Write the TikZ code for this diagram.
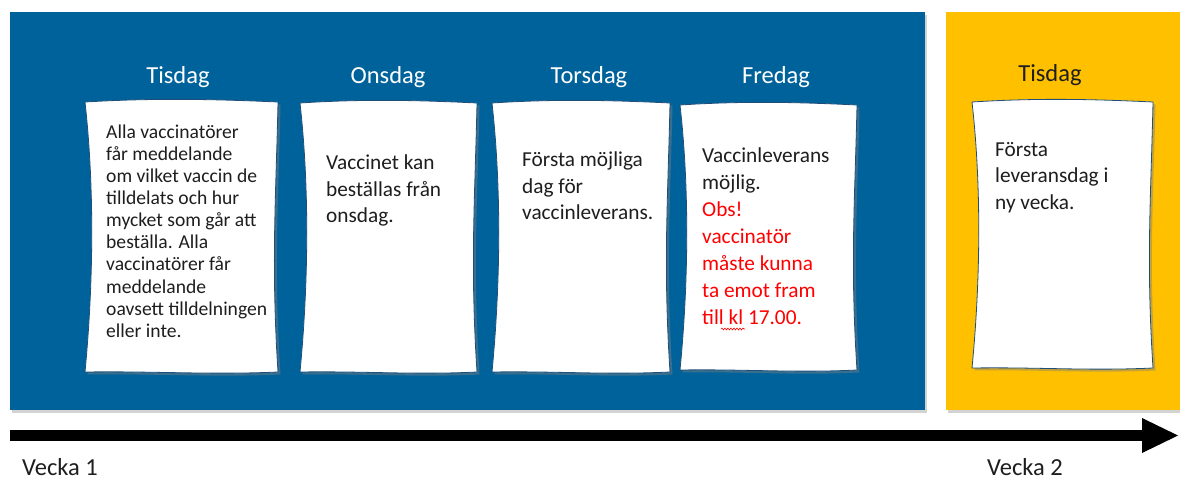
\documentclass[tikz,border=0pt]{standalone}
\usepackage{fontspec}
\setmainfont{Carlito}
\usetikzlibrary{shadows,calc,decorations.pathmorphing}
\definecolor{bluebg}{RGB}{0,98,155}
\definecolor{yellowbg}{RGB}{255,192,0}
\definecolor{edgeblue}{RGB}{31,78,121}
\definecolor{txt}{RGB}{30,30,30}
\definecolor{alert}{RGB}{255,0,0}
\newcommand\paper[4]{%
 \draw[paperstyle] (#1,#2)
 .. controls ({#1+(#3-#1)*0.35},{#2-4}) and ({#1+(#3-#1)*0.65},{#2-3}) .. (#3,#2)
 .. controls ({#3-2},{#2+(#4-#2)*0.35}) and ({#3-7},{#2+(#4-#2)*0.6}) .. (#3,#4)
 .. controls ({#1+(#3-#1)*0.65},{#4+3}) and ({#1+(#3-#1)*0.35},{#4-1}) .. (#1,#4)
 .. controls ({#1+9},{#2+(#4-#2)*0.65}) and ({#1+9},{#2+(#4-#2)*0.3}) .. (#1,#2) -- cycle;}
\tikzset{
 paperstyle/.style={draw=edgeblue, line width=0.8pt, fill=white,
   drop shadow={opacity=0.45, shadow xshift=2.5pt, shadow yshift=-2.5pt}},
 daytitle/.style={anchor=base, font=\fontsize{24.5}{28}\selectfont, inner sep=0pt},
 cardtext/.style={anchor=north west, align=left, inner sep=0pt, text=txt,
   font=\fontsize{21.3}{26.5}\selectfont},
 weektext/.style={anchor=base west, inner sep=0pt, text=txt, font=\fontsize{24.5}{28}\selectfont},
 panel/.style={draw=none, drop shadow={opacity=0.35, shadow xshift=2pt, shadow yshift=-3pt}},
 squiggle/.style={draw=alert, line width=0.6pt, decorate,
   decoration={snake, amplitude=0.9pt, segment length=3pt}}
}
\begin{document}
\begin{tikzpicture}[x=1pt,y=-1pt]
\useasboundingbox (0,0) rectangle (1180,479);
% panels
\fill[bluebg, panel] (10,12) rectangle (925,410);
\fill[yellowbg, panel] (946,12) rectangle (1180,410);
% titles
\node[daytitle, text=white] (t1) at (178,83) {Tisdag};
\node[daytitle, text=white] (t2) at (388,83) {Onsdag};
\node[daytitle, text=white] (t3) at (589,83) {Torsdag};
\node[daytitle, text=white] (t4) at (776,83) {Fredag};
\node[daytitle, text=txt] (t5) at (1050,81) {Tisdag};
% cards
\paper{85}{102}{278}{372}
\paper{300}{103}{477}{372}
\paper{492}{103}{670}{372}
\paper{680}{105}{857}{370}
\paper{972}{102}{1153}{368}
\node[cardtext, font=\fontsize{19.6}{22.1}\selectfont] (c1) at (106,124.5)
 {Alla vaccinatörer\\får meddelande\\om vilket vaccin de\\tilldelats och hur\\mycket som går att\\beställa. Alla\\vaccinatörer får\\meddelande\\oavsett tilldelningen\\eller inte.};
\node[cardtext] (c2) at (326,155) {Vaccinet kan\\beställas från\\onsdag.};
\node[cardtext] (c3) at (522,152) {Första möjliga\\dag för\\vaccinleverans.};
\node[cardtext, font=\fontsize{21.3}{27}\selectfont] (c4) at (702,148)
 {Vaccinleverans\\möjlig.\\\textcolor{alert}{Obs!}\\\textcolor{alert}{vaccinatör}\\\textcolor{alert}{måste kunna}\\\textcolor{alert}{ta emot fram}\\\textcolor{alert}{till kl 17.00.}};
\coordinate (sq0) at (721,329);
\coordinate (sq1) at (745,329);
\draw[squiggle] (sq0) -- (sq1);
\node[cardtext] (c5) at (995,142) {Första\\leveransdag i\\ny vecka.};
% timeline
\coordinate (a0) at (10,435.5);
\coordinate (a1) at (1143,435.5);
\fill[black] (10,430) rectangle (1143,441);
\fill[black] (1142,418) -- (1178,435.5) -- (1142,453) -- cycle;
\node[weektext] (w1) at (22,475) {Vecka 1};
\node[weektext] (w2) at (987,475) {Vecka 2};
\end{tikzpicture}
\end{document}
